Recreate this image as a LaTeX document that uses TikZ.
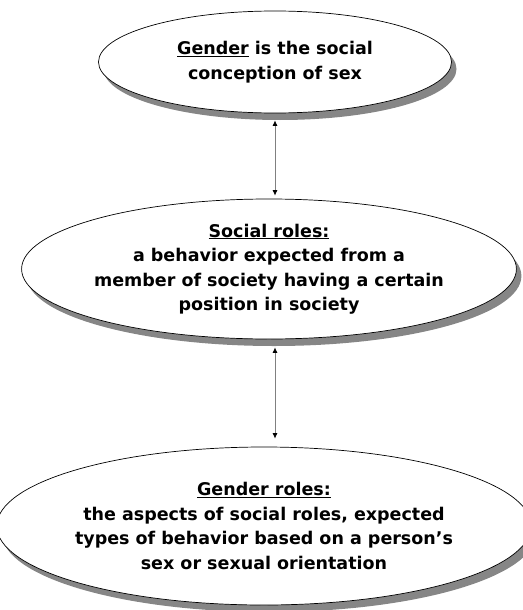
\documentclass[tikz,border=0pt]{standalone}
\usepackage{fontspec}
\setmainfont{DejaVu Sans}
\usetikzlibrary{shapes.geometric,shadows,arrows.meta}

\begin{document}
\begin{tikzpicture}[x=1pt,y=-1pt,
        idea/.style={ellipse, draw=black, line width=0.7pt, fill=white, inner sep=0pt,
            align=center, font=\fontsize{17.5}{24.5}\selectfont\bfseries,
            drop shadow={shadow xshift=5pt, shadow yshift=-7pt, fill=gray!95, opacity=1}},
        link/.style={draw=gray, line width=0.8pt,
            {Latex[length=5.5pt,width=5pt,black]}-{Latex[length=5.5pt,width=5pt,black]}}]
                \useasboundingbox (0,0) rectangle (522,610);

                \node[idea, minimum width=353pt, minimum height=102pt] (gender) at (275,62)
                    {\underline{Gender} is the social\\conception of sex};

                \node[idea, minimum width=446pt, minimum height=140pt] (social) at (269,269)
                    {\underline{Social roles:}\\a behavior expected from a\\member of society having a certain\\position in society};

                \node[idea, minimum width=511pt, minimum height=158pt] (roles) at (264,526)
                    {\underline{Gender roles:}\\the aspects of social roles, expected\\types of behavior based on a person’s\\sex or sexual orientation};

                \draw[link, shorten <=7pt, shorten >=3pt] (gender.south) -- (gender.south |- social.north);
                \draw[link, shorten <=8pt, shorten >=8pt] (social.south -| gender.south) -- (roles.north -| gender.south);
\end{tikzpicture}
\end{document}
